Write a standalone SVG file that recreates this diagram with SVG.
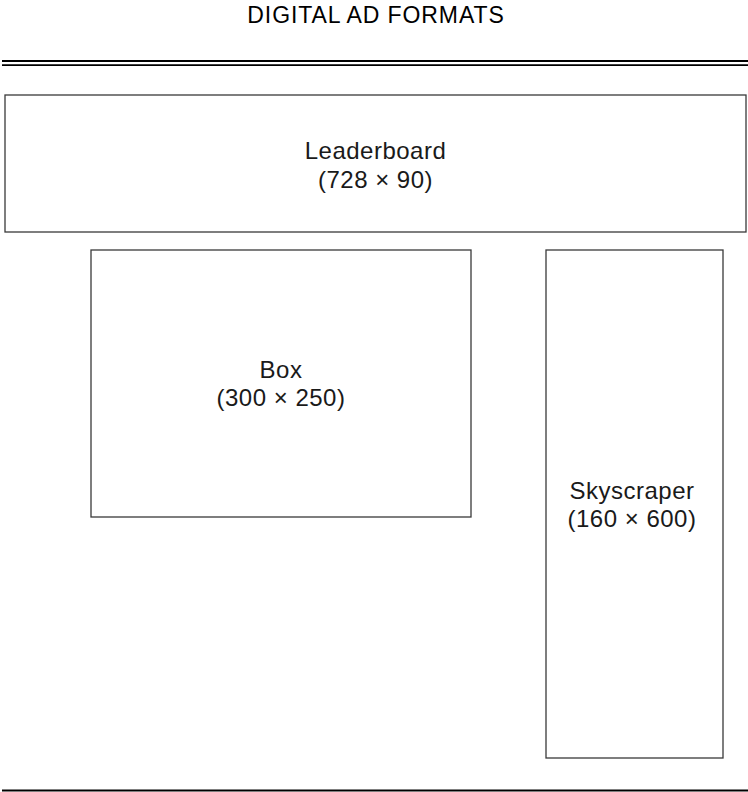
<svg xmlns="http://www.w3.org/2000/svg" width="748" height="792" viewBox="0 0 748 792">
<style>
.box{fill:#fff;stroke:#3a3a3a;stroke-width:1.3}
.lbl{font-family:"Liberation Sans",Arial,sans-serif;font-size:24px;letter-spacing:0.5px;fill:#1a1a1a;text-anchor:middle}
.title{font-family:"Liberation Sans",Arial,sans-serif;font-size:23px;letter-spacing:0.9px;fill:#000;text-anchor:middle}
.rule{stroke:#000;fill:none}
</style>
<rect width="748" height="792" fill="#fff"/>
<text class="title" x="376" y="23">DIGITAL AD FORMATS</text>
<g id="rules">
<line class="rule" x1="2" y1="61" x2="748" y2="61" stroke-width="1.8"/>
<line class="rule" x1="2" y1="65.2" x2="748" y2="65.2" stroke-width="1.8"/>
<line class="rule" x1="2" y1="790.5" x2="748" y2="790.5" stroke-width="2.2"/>
</g>
<g id="leaderboard">
<rect class="box" x="5" y="95" width="741" height="137"/>
<text class="lbl" x="375.5" y="159">Leaderboard</text>
<text class="lbl" x="375.5" y="188">(728 × 90)</text>
</g>
<g id="box">
<rect class="box" x="91" y="250" width="380" height="267"/>
<text class="lbl" x="281" y="378">Box</text>
<text class="lbl" x="281" y="406">(300 × 250)</text>
</g>
<g id="skyscraper">
<rect class="box" x="546" y="250" width="177" height="508"/>
<text class="lbl" x="632" y="498.5">Skyscraper</text>
<text class="lbl" x="632" y="526.5">(160 × 600)</text>
</g>
<g id="connectors"/>
</svg>
